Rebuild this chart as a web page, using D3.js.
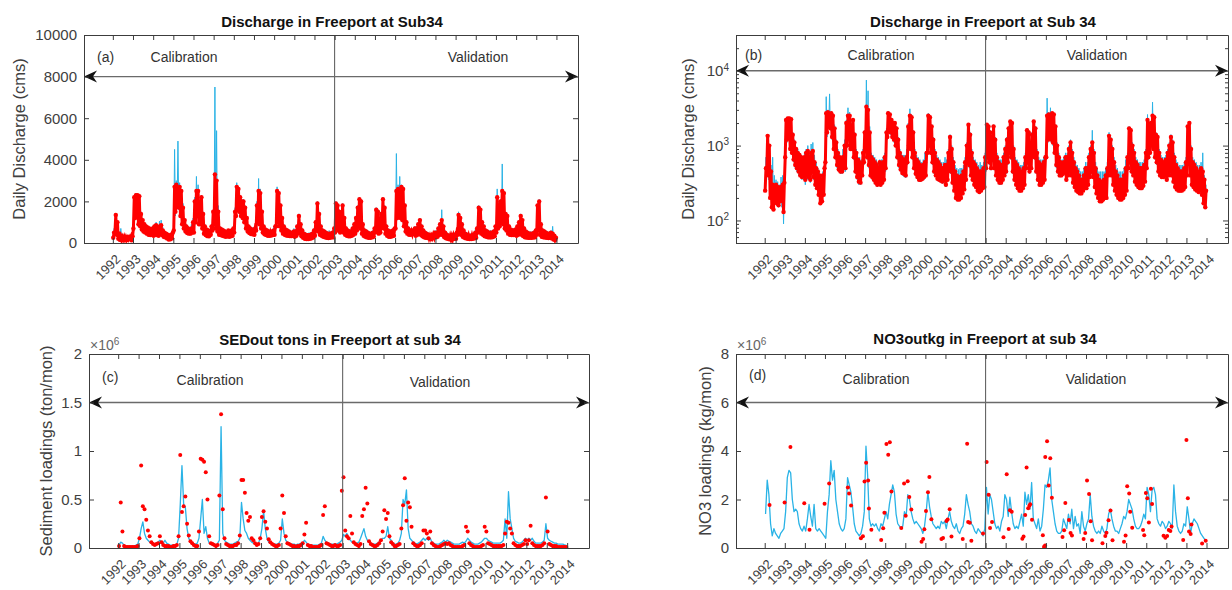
<!DOCTYPE html>
<html>
<head>
<meta charset="utf-8">
<script src="https://cdn.jsdelivr.net/npm/d3@7"></script>
<style>
  body { margin: 0; background: #fff; }
  svg text { font-family: "Liberation Sans", Arial, sans-serif; }
</style>
</head>
<body>
<svg></svg>
<script>
const WIDTH = 1232;
const HEIGHT = 590;

// ---- data ----
const years = d3.range(1992, 2015);

// daily discharge (cms), summarised per month Jan 1992 .. Dec 2013: daily low / high
const qObsLo = [
  250, 500, 400, 200, 150, 140, 180, 170, 160, 180, 200, 130,
  700, 1200, 1300, 900, 800, 650, 550, 500, 450, 400, 380, 400,
  350, 400, 380, 350, 450, 380, 300, 270, 220, 170, 180, 220,
  600, 1500, 1800, 1700, 1300, 900, 700, 550, 480, 450, 450, 500,
  500, 1000, 1300, 900, 900, 700, 450, 380, 330, 320, 400, 600,
  900, 700, 550, 400, 380, 350, 320, 300, 320, 300, 320, 350,
  500, 1300, 1600, 1500, 1300, 1200, 1000, 700, 550, 480, 430, 420,
  400, 600, 1000, 900, 700, 500, 420, 380, 350, 350, 360, 380,
  400, 800, 1000, 800, 600, 450, 400, 360, 350, 340, 330, 350,
  300, 350, 500, 450, 320, 250, 200, 190, 190, 200, 230, 260,
  350, 600, 550, 400, 350, 300, 280, 250, 240, 250, 270, 280,
  500, 700, 600, 500, 650, 500, 400, 350, 320, 320, 350, 400,
  450, 600, 800, 700, 450, 350, 300, 270, 250, 250, 270, 300,
  500, 600, 450, 500, 800, 700, 450, 350, 300, 300, 320, 350,
  700, 1200, 1300, 1200, 1100, 800, 550, 450, 400, 400, 420, 450,
  350, 400, 450, 400, 320, 280, 250, 240, 230, 230, 250, 280,
  270, 300, 380, 450, 380, 280, 230, 200, 180, 180, 190, 200,
  200, 400, 450, 400, 300, 250, 220, 200, 190, 190, 200, 220,
  250, 500, 600, 450, 400, 330, 300, 280, 270, 270, 290, 330,
  500, 700, 800, 1000, 900, 700, 600, 450, 400, 380, 380, 400,
  350, 400, 450, 400, 330, 280, 260, 250, 250, 250, 260, 280,
  400, 600, 400, 300, 280, 260, 250, 240, 250, 220, 170, 150
];
const qObsHi = [
  500, 1350, 1000, 450, 300, 280, 300, 280, 260, 280, 300, 320,
  2200, 2300, 2300, 2250, 1400, 1100, 900, 800, 750, 700, 650, 700,
  800, 850, 700, 800, 850, 600, 500, 450, 400, 350, 400, 500,
  2700, 2800, 2600, 2700, 2500, 1700, 1100, 800, 700, 650, 700, 1000,
  2000, 2500, 2500, 1800, 2200, 1400, 800, 650, 600, 550, 800, 1500,
  3300, 3000, 1500, 700, 650, 600, 550, 500, 600, 550, 600, 700,
  1500, 2700, 2600, 2200, 2000, 2000, 1700, 1200, 800, 700, 650, 600,
  700, 1800, 2500, 2400, 1500, 800, 650, 600, 550, 500, 550, 600,
  800, 2500, 2400, 1800, 1200, 800, 650, 600, 550, 500, 500, 550,
  550, 800, 1300, 900, 600, 450, 400, 380, 380, 400, 450, 600,
  1000, 1900, 1400, 800, 600, 550, 500, 450, 450, 450, 500, 700,
  1900, 1800, 1500, 1300, 1800, 1200, 700, 600, 550, 550, 700, 900,
  1200, 1700, 2100, 2000, 900, 600, 550, 500, 450, 450, 500, 700,
  1600, 1500, 800, 1400, 2100, 1700, 800, 600, 550, 550, 600, 700,
  2500, 2600, 2500, 2700, 2600, 1800, 1000, 700, 600, 550, 600, 700,
  700, 900, 1100, 800, 600, 500, 450, 400, 350, 350, 400, 500,
  500, 700, 900, 1100, 800, 500, 400, 350, 330, 330, 350, 400,
  500, 1350, 1200, 900, 600, 450, 400, 350, 350, 350, 400, 500,
  700, 1700, 1600, 1000, 800, 600, 550, 500, 500, 500, 550, 800,
  2200, 1800, 2000, 2500, 2400, 1400, 1300, 800, 650, 600, 600, 650,
  800, 1000, 1300, 1100, 700, 550, 500, 450, 450, 450, 500, 600,
  1800, 2000, 900, 600, 550, 500, 450, 450, 500, 450, 350, 250
];
const qSimLo = [
  300, 450, 350, 220, 180, 160, 170, 160, 150, 170, 150, 90,
  500, 1100, 1200, 850, 750, 600, 500, 450, 400, 380, 350, 350,
  300, 350, 350, 320, 420, 350, 280, 260, 230, 190, 200, 230,
  500, 1300, 1700, 1600, 1200, 850, 650, 500, 450, 420, 420, 450,
  450, 950, 1200, 850, 850, 650, 420, 350, 300, 300, 380, 550,
  800, 650, 500, 380, 350, 330, 300, 280, 300, 290, 300, 330,
  450, 1200, 1500, 1400, 1250, 1100, 950, 650, 500, 450, 400, 380,
  370, 550, 900, 850, 650, 470, 400, 360, 330, 330, 340, 350,
  380, 750, 950, 750, 550, 420, 380, 340, 330, 320, 310, 320,
  280, 330, 480, 420, 300, 240, 200, 190, 190, 200, 220, 250,
  330, 550, 500, 380, 330, 290, 270, 240, 230, 240, 260, 270,
  450, 650, 550, 470, 600, 470, 380, 330, 300, 300, 330, 380,
  420, 550, 750, 650, 420, 330, 290, 260, 240, 240, 260, 290,
  470, 550, 420, 470, 750, 650, 420, 330, 290, 290, 300, 330,
  650, 1100, 1200, 1100, 1000, 750, 500, 420, 380, 380, 400, 420,
  330, 380, 420, 380, 300, 270, 240, 230, 220, 220, 240, 260,
  260, 290, 360, 420, 360, 270, 220, 200, 190, 190, 190, 200,
  210, 380, 420, 380, 290, 240, 210, 200, 190, 190, 200, 210,
  240, 470, 560, 420, 380, 310, 290, 270, 260, 260, 280, 320,
  470, 650, 750, 950, 850, 650, 550, 420, 380, 360, 360, 380,
  330, 380, 420, 380, 310, 270, 250, 240, 240, 240, 250, 270,
  380, 550, 380, 290, 270, 250, 240, 230, 240, 220, 200, 170
];
const qSimHi = [
  700, 1400, 900, 550, 700, 400, 350, 330, 300, 380, 400, 300,
  2100, 2400, 2300, 2200, 1500, 1200, 950, 900, 800, 750, 700, 800,
  900, 1000, 800, 1050, 1100, 750, 600, 500, 450, 400, 450, 600,
  4500, 3000, 4900, 2900, 2600, 1900, 1200, 900, 800, 700, 900, 1200,
  2200, 3200, 2800, 2000, 2300, 1500, 900, 700, 700, 650, 900, 1600,
  7500, 5400, 1800, 800, 750, 700, 650, 600, 650, 650, 700, 800,
  1700, 2900, 2700, 2300, 2100, 2100, 1800, 1300, 900, 800, 750, 750,
  900, 2000, 3100, 2600, 1600, 900, 750, 700, 650, 600, 650, 800,
  900, 2700, 2500, 1900, 1300, 900, 750, 700, 650, 600, 600, 700,
  650, 900, 1400, 1000, 700, 550, 500, 480, 500, 500, 550, 700,
  1100, 2000, 1500, 900, 700, 650, 600, 550, 600, 550, 600, 800,
  2000, 1900, 1600, 1400, 1900, 1300, 800, 700, 650, 650, 800, 1000,
  1300, 1800, 2200, 2100, 1000, 700, 650, 600, 550, 550, 600, 800,
  1700, 1600, 900, 1500, 2200, 1800, 900, 700, 650, 650, 700, 800,
  4300, 2800, 3200, 2800, 2700, 1900, 1100, 800, 700, 650, 700, 800,
  800, 1000, 1200, 900, 700, 600, 550, 500, 450, 450, 500, 600,
  600, 800, 1000, 1600, 900, 600, 500, 450, 450, 450, 450, 500,
  600, 1500, 1300, 1000, 700, 550, 500, 450, 450, 450, 500, 650,
  800, 1800, 1700, 1100, 900, 700, 650, 600, 600, 600, 650, 900,
  2600, 2000, 2100, 3800, 2500, 1500, 1400, 900, 750, 700, 700, 750,
  900, 1100, 1400, 1200, 800, 650, 600, 550, 550, 550, 600, 700,
  1900, 2100, 1000, 700, 650, 600, 550, 550, 600, 800, 400, 300
];

// monthly sediment load (x10^6 ton/mon), Jan 1992 .. Dec 2013
const sedSim = [
  0.03, 0.06, 0.05, 0.03, 0.02, 0.02, 0.02, 0.02, 0.02, 0.02, 0.03, 0.04,
  0.10, 0.20, 0.27, 0.15, 0.10, 0.08, 0.06, 0.05, 0.04, 0.04, 0.05, 0.06,
  0.08, 0.06, 0.05, 0.08, 0.05, 0.04, 0.03, 0.03, 0.03, 0.03, 0.04, 0.10,
  0.45, 0.85, 0.45, 0.42, 0.20, 0.10, 0.06, 0.05, 0.04, 0.04, 0.05, 0.10,
  0.30, 0.50, 0.15, 0.22, 0.10, 0.05, 0.04, 0.03, 0.03, 0.03, 0.05, 0.08,
  1.25, 0.15, 0.08, 0.06, 0.05, 0.04, 0.04, 0.04, 0.05, 0.06, 0.07, 0.10,
  0.47, 0.30, 0.18, 0.15, 0.10, 0.08, 0.06, 0.05, 0.05, 0.04, 0.05, 0.10,
  0.20, 0.38, 0.20, 0.10, 0.06, 0.05, 0.04, 0.04, 0.04, 0.04, 0.05, 0.08,
  0.30, 0.15, 0.08, 0.06, 0.05, 0.04, 0.04, 0.04, 0.03, 0.04, 0.04, 0.05,
  0.05, 0.08, 0.06, 0.04, 0.03, 0.03, 0.03, 0.03, 0.03, 0.03, 0.04, 0.05,
  0.12, 0.08, 0.06, 0.05, 0.04, 0.04, 0.04, 0.04, 0.04, 0.05, 0.06, 0.08,
  0.14, 0.12, 0.15, 0.10, 0.08, 0.06, 0.05, 0.04, 0.05, 0.06, 0.10, 0.15,
  0.20, 0.12, 0.08, 0.06, 0.05, 0.04, 0.04, 0.04, 0.05, 0.06, 0.08, 0.10,
  0.10, 0.12, 0.22, 0.10, 0.08, 0.05, 0.04, 0.04, 0.05, 0.08, 0.15, 0.50,
  0.45, 0.60, 0.20, 0.10, 0.08, 0.06, 0.05, 0.04, 0.05, 0.06, 0.08, 0.10,
  0.08, 0.10, 0.08, 0.10, 0.06, 0.05, 0.04, 0.04, 0.04, 0.05, 0.06, 0.08,
  0.06, 0.08, 0.07, 0.06, 0.05, 0.04, 0.04, 0.04, 0.04, 0.05, 0.06, 0.05,
  0.07, 0.10, 0.08, 0.06, 0.05, 0.04, 0.04, 0.04, 0.05, 0.06, 0.08, 0.10,
  0.10, 0.08, 0.07, 0.06, 0.05, 0.05, 0.05, 0.05, 0.05, 0.06, 0.08, 0.30,
  0.10, 0.58, 0.30, 0.20, 0.10, 0.07, 0.06, 0.05, 0.05, 0.06, 0.08, 0.10,
  0.08, 0.10, 0.08, 0.10, 0.07, 0.05, 0.05, 0.05, 0.05, 0.06, 0.08, 0.25,
  0.10, 0.08, 0.07, 0.06, 0.05, 0.05, 0.04, 0.04, 0.04, 0.04, 0.03, 0.03
];
const sedObs = [
  0.02, 0.47, 0.17, 0.02, 0.01, 0.01, 0.01, 0.01, 0.01, 0.01, 0.01, 0.02,
  0.10, 0.85, 0.43, 0.40, 0.29, 0.18, 0.12, 0.06, 0.04, 0.03, 0.04, 0.05,
  0.12, 0.06, 0.03, 0.02, 0.02, 0.02, 0.01, 0.01, 0.02, 0.02, 0.03, 0.12,
  0.96, 0.37, 0.43, 0.53, 0.25, 0.13, 0.07, 0.05, 0.03, 0.02, 0.02, 0.17,
  0.92, 0.91, 0.89, 0.78, 0.50, 0.12, 0.05, 0.04, 0.03, 0.02, 0.03, 0.54,
  1.38, 0.40, 0.10, 0.04, 0.03, 0.02, 0.02, 0.02, 0.03, 0.03, 0.05, 0.13,
  0.70, 0.70, 0.57, 0.36, 0.28, 0.32, 0.10, 0.08, 0.05, 0.03, 0.04, 0.10,
  0.32, 0.38, 0.27, 0.20, 0.09, 0.06, 0.04, 0.03, 0.02, 0.02, 0.03, 0.20,
  0.54, 0.36, 0.12, 0.05, 0.04, 0.03, 0.02, 0.02, 0.01, 0.02, 0.02, 0.03,
  0.05, 0.14, 0.26, 0.03, 0.02, 0.02, 0.01, 0.01, 0.01, 0.01, 0.02, 0.03,
  0.34, 0.43, 0.05, 0.04, 0.03, 0.02, 0.02, 0.03, 0.02, 0.02, 0.03, 0.59,
  0.73, 0.18, 0.12, 0.10, 0.33, 0.15, 0.06, 0.04, 0.03, 0.02, 0.04, 0.33,
  0.40, 0.62, 0.46, 0.07, 0.04, 0.03, 0.02, 0.02, 0.03, 0.05, 0.08, 0.17,
  0.39, 0.30, 0.36, 0.12, 0.06, 0.04, 0.02, 0.02, 0.03, 0.04, 0.20, 0.44,
  0.72, 0.28, 0.47, 0.42, 0.22, 0.05, 0.03, 0.02, 0.02, 0.03, 0.05, 0.18,
  0.18, 0.15, 0.10, 0.17, 0.05, 0.03, 0.02, 0.01, 0.01, 0.02, 0.03, 0.04,
  0.05, 0.04, 0.05, 0.03, 0.02, 0.01, 0.01, 0.01, 0.01, 0.01, 0.02, 0.03,
  0.22, 0.17, 0.05, 0.03, 0.02, 0.01, 0.01, 0.01, 0.01, 0.02, 0.03, 0.22,
  0.17, 0.05, 0.04, 0.03, 0.02, 0.02, 0.02, 0.02, 0.02, 0.02, 0.03, 0.15,
  0.27, 0.26, 0.20, 0.15, 0.05, 0.03, 0.02, 0.02, 0.02, 0.03, 0.04, 0.08,
  0.04, 0.08, 0.23, 0.05, 0.03, 0.02, 0.02, 0.02, 0.02, 0.03, 0.05, 0.52,
  0.17, 0.04, 0.03, 0.02, 0.02, 0.02, 0.01, 0.01, 0.01, 0.01, 0.01, 0.01
];

// monthly NO3 load (x10^6 kg/mon), simulated Jan 1992 .. Dec 2013
const no3Sim = [
  1.4, 2.8, 2.2, 1.0, 0.5, 0.8, 0.6, 0.5, 0.4, 0.6, 0.7, 0.8,
  1.5, 2.9, 3.2, 3.1, 2.0, 1.5, 1.6, 1.5, 1.0, 0.8, 0.7, 0.9,
  0.7, 1.2, 1.8, 1.3, 0.9, 1.8, 0.8, 0.7, 0.8, 0.7, 0.6, 0.5,
  0.4, 1.5, 2.2, 3.6, 2.8, 3.2, 2.0, 1.5, 1.0, 0.8, 0.7, 0.8,
  1.2, 2.9, 2.6, 2.3, 1.7, 1.0, 0.7, 0.6, 0.5, 0.6, 0.9, 1.5,
  4.2, 3.0, 1.2, 0.9, 1.0, 0.9, 1.0, 0.8, 0.7, 1.0, 0.9, 1.2,
  1.5, 1.2, 1.8, 2.2, 2.6, 2.3, 1.4, 1.0, 0.9, 0.8, 0.9, 1.5,
  1.3, 2.2, 2.0, 1.5, 1.2, 1.0, 1.1, 1.0, 0.9, 0.8, 0.6, 0.9,
  1.5, 2.3, 1.7, 1.3, 1.0, 0.9, 0.8, 0.9, 0.8, 1.1, 1.0, 1.1,
  0.8, 1.2, 1.5, 1.1, 0.9, 0.8, 1.0, 0.7, 0.6, 0.8, 0.9, 1.4,
  2.2, 1.8, 1.5, 1.0, 0.9, 0.7, 0.6, 0.8, 0.7, 0.6, 0.5, 0.8,
  2.5, 1.4, 2.2, 2.0, 1.5, 1.0, 0.8, 0.9, 0.7, 1.1, 1.3, 2.2,
  2.0, 1.3, 2.1, 1.5, 1.0, 0.8, 0.9, 0.8, 1.1, 1.4, 0.9, 2.3,
  1.8, 2.2, 1.6, 2.7, 1.2, 1.0, 0.8, 1.2, 0.7, 0.9, 1.6, 2.6,
  2.5, 2.8, 3.3, 2.0, 1.5, 1.0, 0.7, 0.6, 0.6, 0.7, 1.2, 1.0,
  0.8, 1.4, 1.0, 1.6, 0.8, 1.3, 0.9, 1.0, 0.6, 1.5, 0.9, 0.7,
  1.0, 1.2, 2.2, 1.3, 0.9, 0.7, 0.6, 0.7, 0.6, 0.9, 0.7, 0.6,
  0.8, 1.4, 1.6, 1.2, 0.9, 0.7, 0.7, 0.6, 0.8, 1.0, 1.3, 1.2,
  1.5, 2.0, 1.8, 1.6, 1.2, 0.9, 0.8, 0.8, 0.9, 1.1, 1.4, 1.2,
  2.5, 2.2, 1.5, 2.4, 2.5, 2.2, 1.2, 1.0, 0.9, 1.1, 1.0, 0.8,
  0.9, 1.1, 1.0, 0.8, 2.6, 1.5, 0.9, 0.7, 0.6, 0.7, 1.0, 0.9,
  1.7, 1.2, 0.6, 1.0, 1.2, 1.1, 1.0, 0.8, 0.6, 0.5, 0.4, 0.3
];
// observed NO3 samples: decimal year and load (x10^6 kg/mon)
const no3ObsYear = [
  1992.24, 1992.99, 1993.28, 1993.97, 1994.23, 1994.98, 1995.21, 1996.14, 1996.2, 1996.3,
  1996.79, 1996.89, 1996.97, 1997.05, 1997.15, 1997.19, 1997.31, 1997.8, 1997.9, 1997.96,
  1998.06, 1998.15, 1998.23, 1998.31, 1998.8, 1998.94, 1999.02, 1999.12, 1999.2, 1999.3,
  1999.81, 1999.89, 1999.95, 2000.03, 2000.13, 2000.2, 2000.3, 2000.8, 2000.88, 2001.05,
  2001.11, 2001.21, 2001.3, 2001.86, 2002.08, 2002.13, 2002.21, 2002.29, 2002.87, 2003.05,
  2003.15, 2003.22, 2003.32, 2003.89, 2004.05, 2004.15, 2004.21, 2004.3, 2004.83, 2004.89,
  2004.97, 2005.04, 2005.12, 2005.18, 2005.22, 2005.31, 2005.85, 2005.91, 2005.96, 2005.97,
  2006.06, 2006.14, 2006.22, 2006.3, 2006.83, 2006.91, 2006.97, 2007.15, 2007.23, 2007.3,
  2007.88, 2007.96, 2008.05, 2008.15, 2008.23, 2008.3, 2008.82, 2008.96, 2009.02, 2009.12,
  2009.22, 2009.32, 2009.89, 2009.97, 2010.05, 2010.15, 2010.2, 2010.3, 2010.84, 2010.9,
  2010.98, 2011.05, 2011.13, 2011.23, 2011.29, 2011.86, 2011.95, 2012.04, 2012.12, 2012.2,
  2012.26, 2012.84, 2013.0, 2013.07, 2013.13, 2013.21, 2013.25, 2013.78, 2013.96
];
const no3ObsValue = [
  1.77, 1.88, 4.16, 1.85, 0.75, 1.82, 2.66, 2.5, 2.25, 1.75,
  0.4, 0.48, 2.74, 3.52, 2.78, 1.63, 0.75, 0.33, 0.81, 1.45,
  4.29, 3.85, 4.36, 2.33, 0.82, 2.66, 1.33, 2.75, 2.1, 1.59,
  0.26, 0.37, 0.77, 1.53, 2.3, 2.93, 1.19, 0.37, 0.41, 1.11,
  1.18, 1.6, 0.47, 0.37, 4.3, 1.07, 1.04, 0.3, 0.6, 3.55,
  2.2, 0.82, 1.07, 0.44, 3.04, 0.78, 1.56, 1.5, 0.38, 0.47,
  1.36, 3.32, 1.64, 1.74, 1.8, 1.16, 0.53, 0.05, 0.1, 3.75,
  4.4, 2.58, 3.7, 2.07, 0.45, 0.73, 1.86, 1.15, 0.62, 0.52,
  0.37, 0.62, 2.78, 2.23, 1.1, 0.32, 0.2, 0.49, 0.63, 1.14,
  1.55, 0.32, 0.26, 0.52, 2.55, 2.25, 1.49, 0.84, 0.74, 0.53,
  2.27, 2.05, 1.05, 2.44, 1.81, 0.51, 0.42, 0.49, 0.74, 0.7,
  0.89, 0.33, 4.45, 2.05, 0.68, 0.58, 0.97, 0.19, 0.3
];

// ---- layout ----
const X_DOMAIN = [1990.57, 2015.07];
const SPLIT_YEAR = 2003;
const CYAN = '#2ab3e6';
const RED = '#ff0000';
const AXIS = '#3c3c3c';
const TEXT = '#404040';

const svg = d3.select('svg').attr('width', WIDTH).attr('height', HEIGHT);

const monthX = (m, f) => 1992 + (m + f) / 12;

// each month drawn as its daily low then daily high
function monthRange(lo, hi) {
  const pts = [];
  lo.forEach((v, m) => {
    pts.push([monthX(m, 0.25), v]);
    pts.push([monthX(m, 0.75), hi[m]]);
  });
  return pts;
}
const monthly = arr => arr.map((v, m) => [monthX(m, 0.5), v]);

const panels = [
  {
    id: 'a', left: 84, right: 578, top: 35, bottom: 243,
    title: 'Discharge in Freeport at Sub34', titleX: 332, titleY: 27,
    yLabel: 'Daily Discharge (cms)', yLabelX: 19,
    yDomain: [0, 10000], yTicks: d3.range(0, 10001, 2000), arrowY: 8000,
    tag: [97, 62], calib: [184, 62], valid: [478, 62],
    sim: monthRange(qSimLo, qSimHi), obs: monthRange(qObsLo, qObsHi), obsLine: true
  },
  {
    id: 'b', left: 736, right: 1228, top: 35, bottom: 243, log: true,
    title: 'Discharge in Freeport at Sub 34', titleX: 983, titleY: 27,
    yLabel: 'Daily Discharge (cms)', yLabelX: 688,
    yDomain: [50, 30000], yTicks: [100, 1000, 10000], arrowY: 10000,
    tag: [745, 60], calib: [881, 60], valid: [1097, 60],
    sim: monthRange(qSimLo, qSimHi), obs: monthRange(qObsLo, qObsHi), obsLine: true
  },
  {
    id: 'c', left: 89, right: 589, top: 354, bottom: 548,
    title: 'SEDout tons in Freeport at sub 34', titleX: 340, titleY: 345,
    yLabel: 'Sediment loadings (ton/mon)', yLabelX: 46, exponent: true,
    yDomain: [0, 2], yTicks: [0, 0.5, 1, 1.5, 2], arrowY: 1.5,
    tag: [102, 382], calib: [210, 385], valid: [440, 387],
    sim: monthly(sedSim), obs: monthly(sedObs)
  },
  {
    id: 'd', left: 736, right: 1228, top: 354, bottom: 548,
    title: 'NO3outkg in Freeport at sub 34', titleX: 985, titleY: 344,
    yLabel: 'NO3 loadings (kg/mon)', yLabelX: 705, exponent: true,
    yDomain: [0, 8], yTicks: [0, 2, 4, 6, 8], arrowY: 6,
    tag: [749, 380], calib: [876, 384], valid: [1096, 384],
    sim: monthly(no3Sim), obs: no3ObsYear.map((t, i) => [t, no3ObsValue[i]])
  }
];

function styleAxis(g) {
  g.select('.domain').attr('stroke', AXIS).attr('stroke-width', 1);
  g.selectAll('.tick line').attr('stroke', AXIS);
  g.selectAll('text').attr('fill', TEXT);
}

function drawPanel(p) {
  const g = svg.append('g').attr('class', 'panel-' + p.id);
  const x = d3.scaleLinear().domain(X_DOMAIN).range([p.left, p.right]);
  const y = (p.log ? d3.scaleLog() : d3.scaleLinear()).domain(p.yDomain).range([p.bottom, p.top]);

  g.append('clipPath').attr('id', 'clip-' + p.id)
    .append('rect')
    .attr('x', p.left).attr('y', p.top)
    .attr('width', p.right - p.left).attr('height', p.bottom - p.top);

  const plot = g.append('g').attr('clip-path', `url(#clip-${p.id})`);
  const line = d3.line().x(d => x(d[0])).y(d => y(d[1]));

  plot.append('path').datum(p.sim)
    .attr('fill', 'none').attr('stroke', CYAN)
    .attr('stroke-width', p.obsLine ? 1 : 1.3)
    .attr('stroke-linejoin', 'round')
    .attr('d', line);

  if (p.obsLine) {
    plot.append('path').datum(p.obs)
      .attr('fill', 'none').attr('stroke', RED)
      .attr('stroke-width', 3).attr('d', line);
  }
  plot.append('g').selectAll('circle').data(p.obs).join('circle')
    .attr('cx', d => x(d[0])).attr('cy', d => y(d[1]))
    .attr('r', p.obsLine ? 2.2 : 2).attr('fill', RED);

  // calibration / validation split
  g.append('line')
    .attr('x1', x(SPLIT_YEAR)).attr('x2', x(SPLIT_YEAR))
    .attr('y1', p.top).attr('y2', p.bottom)
    .attr('stroke', '#555').attr('stroke-width', 1);

  // double headed arrow
  const ay = y(p.arrowY);
  g.append('line')
    .attr('x1', p.left + 6).attr('x2', p.right - 6)
    .attr('y1', ay).attr('y2', ay)
    .attr('stroke', '#6a6a6a').attr('stroke-width', 1.4);
  const head = (tip, dir) => {
    const b = tip + dir * 13, n = tip + dir * 9;
    return `M${tip},${ay}L${b},${ay - 6}L${n},${ay}L${b},${ay + 6}Z`;
  };
  g.append('path').attr('d', head(p.left, 1)).attr('fill', '#111');
  g.append('path').attr('d', head(p.right, -1)).attr('fill', '#111');

  // axes
  const bottom = g.append('g').attr('transform', `translate(0,${p.bottom})`)
    .call(d3.axisBottom(x).tickValues(years).tickSizeInner(-5).tickSizeOuter(0).tickFormat(d3.format('d')));
  bottom.selectAll('text')
    .attr('x', 0).attr('y', 0).attr('dy', null)
    .attr('text-anchor', 'end')
    .attr('font-size', 13)
    .attr('transform', 'translate(8,17) rotate(-45)');
  styleAxis(bottom);

  const top = g.append('g').attr('transform', `translate(0,${p.top})`)
    .call(d3.axisTop(x).tickValues(years).tickSizeInner(-5).tickSizeOuter(0).tickFormat(''));
  styleAxis(top);

  const fmt = p.log ? () => '10' : d => String(d);
  const left = g.append('g').attr('transform', `translate(${p.left},0)`)
    .call(d3.axisLeft(y).tickValues(p.yTicks).tickSizeInner(-5).tickSizeOuter(0).tickFormat(fmt));
  left.selectAll('text').attr('x', -7).attr('font-size', 15);
  if (p.log) {
    left.selectAll('text').append('tspan')
      .attr('dy', '-0.55em').attr('font-size', 10)
      .text(d => Math.round(Math.log10(d)));
  }
  styleAxis(left);

  const right = g.append('g').attr('transform', `translate(${p.right},0)`)
    .call(d3.axisRight(y).tickValues(p.yTicks).tickSizeInner(-5).tickSizeOuter(0).tickFormat(''));
  styleAxis(right);

  if (p.log) {
    const minor = [];
    [10, 100, 1000, 10000].forEach(dec => {
      d3.range(2, 10).forEach(k => {
        const v = dec * k;
        if (v >= p.yDomain[0] && v <= p.yDomain[1]) minor.push(v);
      });
    });
    [[d3.axisLeft, p.left], [d3.axisRight, p.right]].forEach(([ax, px]) => {
      const m = g.append('g').attr('transform', `translate(${px},0)`)
        .call(ax(y).tickValues(minor).tickSizeInner(-3).tickSizeOuter(0).tickFormat(''));
      m.select('.domain').remove();
      m.selectAll('.tick line').attr('stroke', AXIS);
    });
  }

  if (p.exponent) {
    const t = g.append('text').attr('x', p.left + 1).attr('y', p.top - 4)
      .attr('font-size', 14).attr('fill', '#666').text('\u00d710');
    t.append('tspan').attr('dy', '-0.5em').attr('font-size', 10).text('6');
  }

  // titles and labels
  g.append('text')
    .attr('x', p.titleX).attr('y', p.titleY)
    .attr('text-anchor', 'middle').attr('font-size', 15).attr('font-weight', 'bold')
    .attr('fill', '#111').text(p.title);

  g.append('text')
    .attr('transform', `translate(${p.yLabelX},${(p.top + p.bottom) / 2}) rotate(-90)`)
    .attr('text-anchor', 'middle').attr('dy', '0.35em')
    .attr('font-size', 16.5).attr('fill', TEXT).text(p.yLabel);

  const note = (pos, txt, anchor) => g.append('text')
    .attr('x', pos[0]).attr('y', pos[1])
    .attr('text-anchor', anchor).attr('font-size', 14).attr('fill', '#333').text(txt);
  note(p.tag, `(${p.id})`, 'start');
  note(p.calib, 'Calibration', 'middle');
  note(p.valid, 'Validation', 'middle');
}

panels.forEach(drawPanel);
</script>
</body>
</html>
